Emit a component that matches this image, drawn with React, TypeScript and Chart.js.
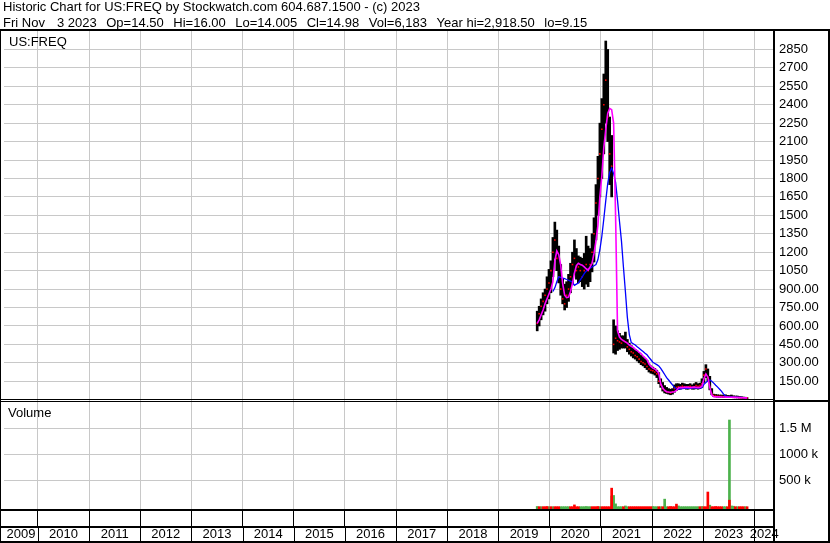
import React, { useEffect, useRef } from "react";
import { Chart, registerables } from "chart.js";

Chart.register(...registerables);

const TITLE = "Historic Chart for US:FREQ by Stockwatch.com 604.687.1500 - (c) 2023";
const SUBTITLE_FIELDS = ["Fri Nov", "3 2023", "Op=14.50", "Hi=16.00", "Lo=14.005", "Cl=14.98", "Vol=6,183", "Year hi=2,918.50", "lo=9.15"];
const SYMBOL = "US:FREQ";
const VOLUME_LABEL = "Volume";

// bi-weekly bars starting Oct 4 2019
const FIRST_BAR_MS = Date.UTC(2019, 9, 4);
const BAR_STEP_DAYS = 14;

const LOWS = [
  560, 600, 650, 690, 720, 780, 820, 870, 1000, 1150,
  1050, 950, 850, 780, 730, 750, 800, 870, 940, 1030,
  980, 950, 960, 920, 900, 940, 920, 960, 1040, 1120,
  1300, 1500, 1650, 1800, 2000, 2250, 2100, 1750, 1650, 380,
  370, 400, 410, 420, 420, 420, 390, 370, 355, 340,
  330, 315, 300, 285, 275, 260, 245, 225, 215, 210,
  200, 180, 130, 100, 70, 55, 50, 45, 40, 45,
  60, 75, 85, 85, 90, 90, 85, 85, 90, 85,
  85, 90, 85, 90, 100, 140, 180, 150, 80, 40,
  25, 22, 20, 20, 20, 18, 18, 18, 17, 17,
  16, 15, 14, 13, 12, 11, 10, 9.15,
];
const HIGHS = [
  720, 760, 820, 870, 900, 1000, 1060, 1130, 1320, 1445,
  1380, 1250, 1100, 980, 940, 960, 1020, 1110, 1200, 1300,
  1230, 1170, 1160, 1150, 1190, 1330, 1250, 1230, 1350, 1480,
  1750, 1980, 2250, 2450, 2650, 2918.5, 2850, 2300, 2150, 650,
  600, 560, 540, 520, 520, 550, 490, 460, 440, 420,
  410, 395, 380, 360, 350, 335, 320, 290, 275, 265,
  255, 240, 220, 170, 140, 115, 100, 90, 85, 90,
  120, 130, 130, 125, 135, 130, 125, 125, 130, 120,
  130, 140, 130, 135, 170, 230, 285, 250, 190, 90,
  45, 42, 40, 38, 38, 36, 40, 35, 34, 38,
  32, 30, 30, 27, 25, 22, 20, 16,
];
const CLOSES = [
  620, 700, 760, 800, 850, 900, 950, 1050, 1200, 1300,
  1150, 1000, 900, 820, 780, 850, 900, 1000, 1100, 1150,
  1050, 1080, 1050, 1000, 1050, 1100, 1050, 1100, 1200, 1350,
  1600, 1800, 2000, 2200, 2400, 2600, 2300, 2000, 1900, 450,
  500, 480, 470, 460, 480, 470, 430, 410, 390, 380,
  360, 350, 330, 310, 300, 290, 270, 250, 240, 235,
  225, 210, 150, 120, 90, 75, 65, 60, 55, 65,
  90, 100, 105, 100, 110, 105, 100, 105, 110, 100,
  105, 115, 110, 115, 130, 200, 250, 180, 100, 50,
  35, 30, 28, 27, 26, 25, 25, 24, 22, 24,
  22, 20, 20, 18, 16, 15, 14, 14.98,
];
const MA_SHORT = [
  620, 650, 690, 730, 780, 820, 860, 900, 960, 1130,
  1210, 1180, 1095, 945, 850, 830, 835, 880, 945, 1030,
  1090, 1110, 1100, 1095, 1080, 1065, 1055, 1080, 1110, 1190,
  1290, 1420, 1650, 1820, 2050, 2200, 2330, 2370, 2360, 2250,
  1500, 560, 510, 490, 480, 470, 460, 445, 435, 425,
  410, 400, 385, 375, 355, 340, 325, 290, 270, 258,
  250, 235, 215, 130, 95, 75, 65, 62, 60, 62,
  65, 75, 95, 100, 98, 100, 102, 100, 98, 100,
  102, 100, 98, 100, 110, 170, 210, 185, 100, 40,
  25, 24, 23, 23, 22, 22, 21, 21, 20, 20,
  19, 19, 18, 17, 17, 16, 15, 15,
];
const MA_LONG = [
  null, null, null, null, null, null, null, null, 880, 910,
  960, 1000, 995, 990, 985, 978, 972, 965, 955, 930,
  940, 950, 975, 1000, 1025, 1045, 1060, 1070, 1080, 1090,
  1100, 1140, 1220, 1330, 1470, 1620, 1760, 1850, 1885, 1840,
  1770, 1620, 1450, 1290, 1080, 880, 670, 530, 465, 455,
  445, 430, 418, 405, 392, 378, 365, 345, 325, 305,
  295, 285, 275, 255, 230, 205, 180, 160, 140, 120,
  100, 88, 85, 88, 90, 92, 92, 93, 93, 94,
  94, 95, 95, 95, 98, 125, 140, 152, 160, 150,
  135, 118, 102, 85, 68, 45, 28, 24, 23, 22,
  21, 20, 20, 19, 18, 17, 17, 16,
];
// volume in thousands of shares
const VOL_UP = [
  10, 0, 6, 0, 0, 0, 6, 0, 6, 0,
  0, 0, 6, 6, 6, 6, 6, 0, 0, 0,
  0, 0, 6, 6, 6, 10, 6, 6, 0, 0,
  0, 0, 6, 0, 0, 0, 0, 0, 210, 220,
  60, 6, 6, 6, 0, 20, 6, 0, 0, 0,
  0, 0, 0, 0, 0, 0, 0, 0, 0, 10,
  6, 6, 0, 6, 0, 150, 6, 0, 0, 0,
  0, 0, 20, 6, 6, 6, 6, 6, 6, 6,
  6, 6, 6, 0, 10, 0, 0, 0, 35, 0,
  0, 0, 0, 0, 0, 6, 6, 0, 1660, 20,
  15, 0, 6, 0, 0, 0, 6, 0,
];
const VOL_DOWN = [
  0, 6, 0, 6, 6, 10, 0, 6, 0, 6,
  6, 6, 0, 0, 0, 0, 0, 6, 6, 40,
  6, 6, 0, 0, 0, 0, 0, 0, 6, 6,
  6, 10, 0, 6, 6, 6, 6, 6, 360, 0,
  0, 0, 0, 0, 6, 0, 0, 6, 6, 6,
  6, 6, 6, 6, 6, 6, 6, 6, 6, 0,
  0, 0, 6, 0, 6, 0, 0, 6, 10, 6,
  6, 55, 0, 0, 0, 0, 0, 0, 0, 0,
  0, 0, 0, 6, 0, 6, 6, 286, 0, 6,
  6, 10, 6, 6, 6, 0, 0, 6, 130, 0,
  0, 6, 0, 6, 6, 6, 0, 6,
];

const YEAR_LABELS = [2009, 2010, 2011, 2012, 2013, 2014, 2015, 2016, 2017, 2018, 2019, 2020, 2021, 2022, 2023, 2024];
const YEAR_LINES = [2010, 2011, 2012, 2013, 2014, 2015, 2016, 2017, 2018, 2019, 2020, 2021, 2022, 2023, 2024];
const PRICE_TICKS = [150, 300, 450, 600, 750, 900, 1050, 1200, 1350, 1500, 1650, 1800, 1950, 2100, 2250, 2400, 2550, 2700, 2850];
const VOLUME_TICKS = [500000, 1000000, 1500000];
const VOLUME_TICK_LABELS = ["500 k", "1000 k", "1.5 M"];

const X_MIN = 2009.338;
const X_MAX = 2024.383;
const PRICE_MIN = -27;
const PRICE_MAX = 3000;
const VOL_MIN = -38000;
const VOL_MAX = 1985000;

const FONT = "'Liberation Sans', Arial, sans-serif";
const DAY_MS = 86400000;

function decimalYear(ms: number): number {
  const y = new Date(ms).getUTCFullYear();
  const s = Date.UTC(y, 0, 1);
  const e = Date.UTC(y + 1, 0, 1);
  return y + (ms - s) / (e - s);
}

const framePlugin = {
  id: "frame",
  beforeDraw(chart: any) {
    const c = chart.ctx;
    c.save();
    c.fillStyle = "#fff";
    c.fillRect(0, 0, chart.width, chart.height);
    c.restore();
  },
  afterDraw(chart: any) {
    const ctx = chart.ctx;
    const xs = chart.scales.x;
    ctx.save();
    ctx.fillStyle = "#000";
    ctx.fillRect(0, 29, 830, 2);
    ctx.fillRect(0, 29, 1, 514);
    ctx.fillRect(773, 29, 2, 514);
    ctx.fillRect(828, 29, 2, 514);
    ctx.fillRect(0, 399, 774, 1);
    ctx.fillRect(0, 401, 774, 1);
    ctx.fillRect(775, 400, 55, 2);
    ctx.fillRect(0, 509, 774, 2);
    ctx.fillRect(0, 526, 774, 2);
    ctx.fillRect(0, 541, 830, 2);
    YEAR_LINES.forEach((y) => {
      const px = Math.round(xs.getPixelForValue(y));
      ctx.fillRect(px, 528, 1, 13);
    });
    ctx.font = `13px ${FONT}`;
    ctx.textAlign = "left";
    ctx.textBaseline = "alphabetic";
    ctx.fillText(TITLE, 3, 11);
    let x = 3;
    SUBTITLE_FIELDS.forEach((f, i) => {
      ctx.fillText(f, x, 27);
      x += ctx.measureText(f).width + (i === 0 ? 12 : 9.6);
    });
    ctx.fillText(SYMBOL, 9, 46);
    ctx.fillText(VOLUME_LABEL, 8, 417);
    ctx.restore();
  },
};

export default function App() {
  const ref = useRef<HTMLCanvasElement>(null);
  useEffect(() => {
    document.body.style.margin = "0";
    const canvas = ref.current!;
    Chart.defaults.font.family = FONT;
    Chart.defaults.font.size = 13;
    Chart.defaults.color = "#000";

    const times = LOWS.map((_, i) => decimalYear(FIRST_BAR_MS + i * BAR_STEP_DAYS * DAY_MS));
    const labelPositions = YEAR_LABELS.map((y, i) => {
      if (i === 0) return (X_MIN + YEAR_LABELS[1]) / 2;
      if (i === YEAR_LABELS.length - 1) return (y + X_MAX) / 2;
      return y + 0.5;
    });

    const hlBars = times.map((t, i) => ({ x: t, y: [LOWS[i], HIGHS[i]] }));
    const closePts = times.map((t, i) => ({ x: t, y: CLOSES[i] }));
    const maShort = times.map((t, i) => ({ x: t, y: MA_SHORT[i] }));
    const maLong = times.map((t, i) => ({ x: t, y: MA_LONG[i] })).filter((p) => p.y !== null);
    const volUp = times
      .map((t, i) => ({ x: t, y: [VOL_MIN, VOL_UP[i] * 1000] }))
      .filter((_, i) => VOL_UP[i] > 0);
    const volDown = times
      .map((t, i) => ({ x: t, y: [VOL_MIN, VOL_DOWN[i] * 1000] }))
      .filter((_, i) => VOL_DOWN[i] > 0);

    const chart = new Chart(canvas, {
      type: "line",
      data: {
        datasets: [
          {
            type: "line",
            data: maShort,
            borderColor: "#ff00ff",
            borderWidth: 1.6,
            pointRadius: 0,
            xAxisID: "x",
            yAxisID: "y",
            order: 1,
          } as any,
          {
            type: "line",
            data: maLong,
            borderColor: "#0000ff",
            borderWidth: 1.3,
            pointRadius: 0,
            xAxisID: "x",
            yAxisID: "y",
            order: 2,
          },
          {
            type: "line",
            data: closePts,
            showLine: false,
            pointStyle: "rect",
            pointRadius: 1.1,
            pointBackgroundColor: "#ff0000",
            pointBorderWidth: 0,
            xAxisID: "x",
            yAxisID: "y",
            order: 3,
          },
          {
            type: "bar",
            data: hlBars,
            backgroundColor: "#000",
            barThickness: 2,
            grouped: false,
            xAxisID: "x",
            yAxisID: "y",
            order: 4,
          },
          {
            type: "bar",
            data: volDown,
            backgroundColor: "#ff0000",
            barThickness: 2,
            grouped: false,
            xAxisID: "x",
            yAxisID: "yv",
            order: 5,
          },
          {
            type: "bar",
            data: volUp,
            backgroundColor: "#4cb24c",
            barThickness: 2,
            grouped: false,
            xAxisID: "x",
            yAxisID: "yv",
            order: 6,
          },
        ] as any,
      },
      options: {
        responsive: false,
        animation: false,
        devicePixelRatio: 1,
        events: [],
        layout: { padding: { top: 31, left: 1, right: 2, bottom: 0 } },
        plugins: { legend: { display: false }, tooltip: { enabled: false } },
        scales: {
          x: {
            type: "linear",
            position: "bottom",
            min: X_MIN,
            max: X_MAX,
            offset: false,
            afterBuildTicks: (s: any) => {
              s.ticks = YEAR_LINES.map((v) => ({ value: v }));
            },
            afterFit: (s: any) => {
              s.height = 17;
            },
            grid: { color: "#c8c8c8", lineWidth: 1, drawTicks: true, tickLength: 17, tickColor: "#000", offset: false },
            ticks: { display: false },
            border: { display: false },
          },
          xl: {
            type: "linear",
            position: "bottom",
            min: X_MIN,
            max: X_MAX,
            offset: false,
            afterBuildTicks: (s: any) => {
              s.ticks = labelPositions.map((v) => ({ value: v }));
            },
            afterFit: (s: any) => {
              s.height = 17;
            },
            grid: { display: false, drawTicks: false },
            ticks: {
              autoSkip: false,
              maxRotation: 0,
              padding: 1,
              font: { size: 13, family: FONT },
              color: "#000",
              callback: (_v: any, i: number) => String(YEAR_LABELS[i]),
            },
            border: { display: false },
          },
          y: {
            type: "linear",
            position: "right",
            stack: "panels",
            stackWeight: 372,
            min: PRICE_MIN,
            max: PRICE_MAX,
            afterBuildTicks: (s: any) => {
              s.ticks = PRICE_TICKS.map((v) => ({ value: v }));
            },
            afterFit: (s: any) => {
              s.width = 54;
            },
            grid: { color: "#c8c8c8", lineWidth: 1, drawTicks: false },
            border: { display: false },
            ticks: {
              autoSkip: false,
              padding: 5,
              font: { size: 13, family: FONT },
              color: "#000",
              callback: (v: any) => (v >= 1000 ? String(v) : Number(v).toFixed(2)),
            },
          },
          yv: {
            type: "linear",
            position: "right",
            stack: "panels",
            stackWeight: 106,
            min: VOL_MIN,
            max: VOL_MAX,
            afterBuildTicks: (s: any) => {
              s.ticks = VOLUME_TICKS.map((v) => ({ value: v }));
            },
            afterFit: (s: any) => {
              s.width = 54;
            },
            grid: { color: "#c8c8c8", lineWidth: 1, drawTicks: false },
            border: { display: false },
            ticks: {
              autoSkip: false,
              padding: 5,
              font: { size: 13, family: FONT },
              color: "#000",
              callback: (_v: any, i: number) => VOLUME_TICK_LABELS[i],
            },
          },
        } as any,
      },
      plugins: [framePlugin],
    });
    return () => chart.destroy();
  }, []);
  return <canvas ref={ref} width={830} height={543} style={{ display: "block", width: 830, height: 543 }} />;
}
